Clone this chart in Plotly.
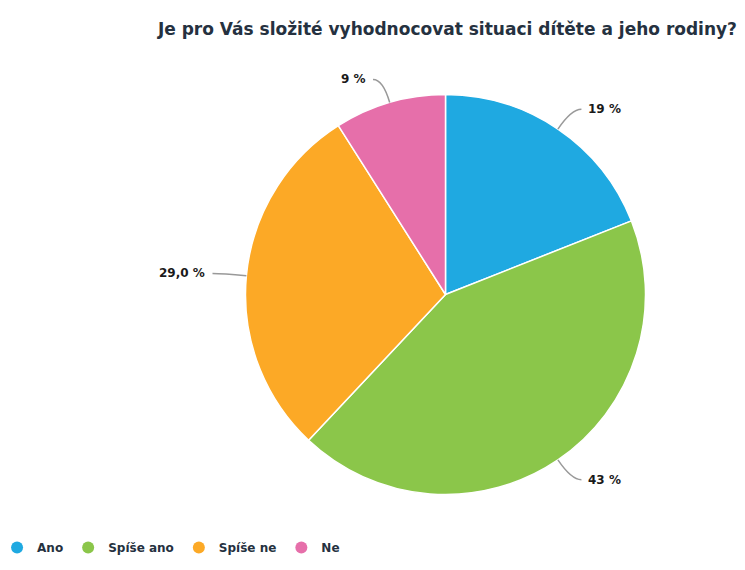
import math
import plotly.graph_objects as go

# Data
kategorie = ['Ano', 'Spíše ano', 'Spíše ne', 'Ne']
hodnoty = [19, 43, 29, 9]
popisky = ['19 %', '43 %', '29,0 %', '9 %']
barvy = ['#1fa9e1', '#8bc64a', '#fca926', '#e66faa']

# page has an 8px body margin, keep the figure inside the window
OFF = 8
W, H = 745 - 2 * OFF, 570 - 2 * OFF
# pie geometry in pixels (window coords shifted by the body margin)
cx, cy, R = 445.5 - OFF, 294.5 - OFF, 200

def px(x, y):
    return x / W, 1 - y / H

fig = go.Figure()

fig.add_trace(go.Pie(
    labels=kategorie,
    values=hodnoty,
    sort=False,
    direction='clockwise',
    rotation=0,
    marker=dict(colors=barvy, line=dict(color='white', width=1.5)),
    textinfo='none',
    hoverinfo='label+percent',
    showlegend=False,
    domain=dict(x=[(cx - R) / W, (cx + R) / W], y=[1 - (cy + R) / H, 1 - (cy - R) / H]),
))

# leader lines + labels computed from the values
celkem = sum(hodnoty)
kum = 0
shapes, annotations = [], []
for val, txt in zip(hodnoty, popisky):
    mid = (kum + val / 2) / celkem * 2 * math.pi
    kum += val
    sx, sy = math.sin(mid), -math.cos(mid)
    x0, y0 = cx + R * sx, cy + R * sy
    x1, y1 = cx + (R + 24) * sx, cy + (R + 24) * sy
    side = 1 if sx >= 0 else -1
    x2 = x1 + side * 10
    p0, p1, p2 = px(x0, y0), px(x1, y1), px(x2, y1)
    shapes.append(dict(
        type='path', xref='paper', yref='paper',
        path=f'M {p0[0]},{p0[1]} Q {p1[0]},{p1[1]} {p2[0]},{p2[1]}',
        line=dict(color='#999999', width=1.5),
    ))
    lx, ly = px(x2 + side * 5, y1)
    annotations.append(dict(
        x=lx, y=ly, xref='paper', yref='paper', text=txt, showarrow=False,
        xanchor='left' if side > 0 else 'right', yanchor='middle',
        font=dict(family='DejaVu Sans', size=12, color='#1a1a1a', weight='bold'),
    ))

# legend entries with round markers
for kat, barva in zip(kategorie, barvy):
    fig.add_trace(go.Scatter(
        x=[None], y=[None], mode='markers', name=kat,
        marker=dict(symbol='circle', size=12, color=barva),
    ))

fig.update_layout(
    width=W, height=H,
    margin=dict(l=0, r=0, t=0, b=0, autoexpand=False),
    paper_bgcolor='white', plot_bgcolor='white',
    xaxis=dict(visible=False), yaxis=dict(visible=False),
    title=dict(
        text='Je pro Vás složité vyhodnocovat situaci dítěte a jeho rodiny?',
        x=1, xanchor='right', xref='paper', y=1 - (29 - OFF) / H, yanchor='middle', yref='paper',
        font=dict(family='DejaVu Sans', size=17, color='#253140', weight='bold'),
    ),
    legend=dict(
        orientation='h', x=-0.015, xanchor='left', y=0, yanchor='bottom',
        font=dict(family='DejaVu Sans', size=12, color='#253140', weight='bold'),
        itemwidth=30, bgcolor='rgba(0,0,0,0)',
    ),
    shapes=shapes,
    annotations=annotations,
)

fig.write_html('out.html')
